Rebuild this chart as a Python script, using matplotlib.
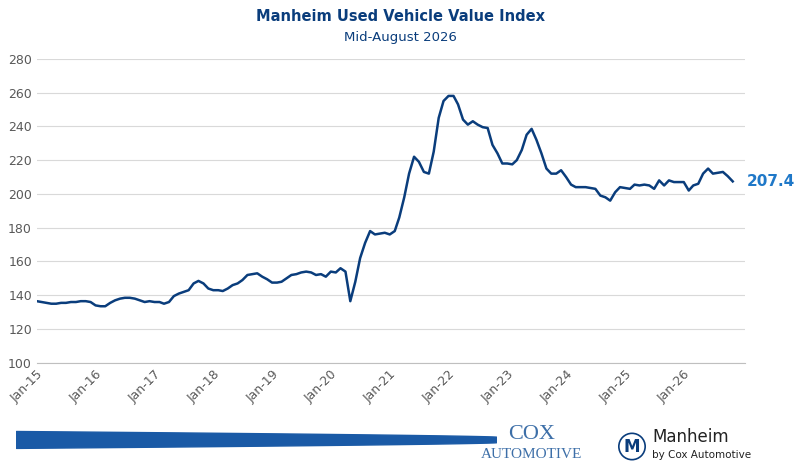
import matplotlib.pyplot as plt
import numpy as np
import pandas as pd

# monthly index values, Jan-2015 .. Aug-2026
v2015 = [136.5, 136, 135.5, 135, 135, 135.5, 135.5, 136, 136, 136.5, 136.5, 136]
v2016 = [134, 133.5, 133.5, 135.5, 137, 138, 138.5, 138.5, 138, 137, 136, 136.5]
v2017 = [136, 136, 135, 136, 139.5, 141, 142, 143, 147, 148.5, 147, 144]
v2018 = [143, 143, 142.5, 144, 146, 147, 149, 152, 152.5, 153, 151, 149.5]
v2019 = [147.5, 147.5, 148, 150, 152, 152.5, 153.5, 154, 153.5, 152, 152.5, 151]
v2020 = [154, 153.5, 156, 154, 136.5, 148, 162, 171, 178, 176, 176.5, 177]
v2021 = [176, 178, 186, 198, 212, 222, 219, 213, 212, 225, 245, 255]
v2022 = [258, 258, 253, 244, 241, 243, 241, 239.5, 239, 229, 224, 218]
v2023 = [218, 217.5, 220, 226, 235, 238.5, 232, 224, 215, 212, 212, 214]
v2024 = [210, 205.5, 204, 204, 204, 203.5, 203, 199, 198, 196, 201, 204]
v2025 = [203.5, 203, 205.5, 205, 205.5, 205, 203, 208, 205, 208, 207, 207]
v2026 = [207, 202, 205, 206, 212, 215, 212, 212.5, 213, 210.5, 207.4]
values = v2015 + v2016 + v2017 + v2018 + v2019 + v2020 + v2021 + v2022 + v2023 + v2024 + v2025 + v2026
dates = pd.date_range("2015-01-01", periods=len(values), freq="MS")
last_label = "207.4"
tick_labels = [f"Jan-{y:02d}" for y in range(15, 27)]

navy = "#0a3d7c"
fig = plt.figure(figsize=(8, 4.7), dpi=100)
ax = fig.add_axes([0.046, 0.228, 0.885, 0.647])
ax.plot(dates, values, color=navy, lw=1.8)
ax.set_ylim(100, 280)
ax.set_yticks(range(100, 281, 20))
ax.set_xlim(pd.Timestamp("2015-01-01"), pd.Timestamp("2027-01-15"))
ticks = pd.date_range("2015-01-01", "2026-01-01", freq="YS")
ax.set_xticks(ticks)
ax.set_xticklabels(tick_labels, rotation=45, ha="right", rotation_mode="anchor")
ax.grid(axis="y", color="#d9d9d9", lw=0.8)
for s in ["top", "right", "left"]:
    ax.spines[s].set_visible(False)
ax.spines["bottom"].set_color("#bfbfbf")
ax.tick_params(length=0, labelsize=9, colors="#595959")
ax.annotate(last_label, (dates[-1], values[-1]), xytext=(10, 0), textcoords="offset points",
            va="center", color="#1f78c8", fontsize=11, fontweight="bold", annotation_clip=False)

fig.text(0.5, 0.955, "Manheim Used Vehicle Value Index", ha="center", color=navy,
         fontsize=10.5, fontweight="bold")
fig.text(0.5, 0.912, "Mid-August 2026", ha="center", color=navy, fontsize=9.5)

# footer brush stroke
bx = fig.add_axes([0.02, 0.045, 0.6, 0.04])
xs = np.linspace(0, 1, 200)
w = 0.15 + 0.3 * (1 - xs) ** 0.7
bx.fill_between(xs, 0.5 - w, 0.5 + w, color="#1a5aa6")
bx.set_xlim(0, 1); bx.set_ylim(0, 1); bx.axis("off")
fig.text(0.665, 0.065, "COX", color="#3d6fa8", fontsize=16, family="Liberation Serif", ha="center")
fig.text(0.665, 0.025, "AUTOMOTIVE", color="#3d6fa8", fontsize=11, family="Liberation Serif", ha="center")
fig.text(0.79, 0.05, "M", color=navy, fontsize=12, fontweight="bold", ha="center", va="center",
         bbox=dict(boxstyle="circle,pad=0.25", fc="white", ec=navy, lw=1.2))
fig.text(0.815, 0.06, "Manheim", color="#222222", fontsize=12)
fig.text(0.815, 0.025, "by Cox Automotive", color="#222222", fontsize=7.5)
fig.savefig("out.png")
